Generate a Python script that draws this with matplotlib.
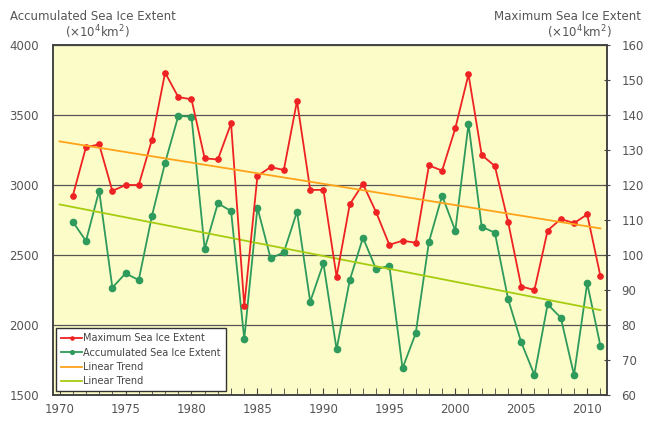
import numpy as np
import matplotlib
matplotlib.use('Agg')
import matplotlib.pyplot as plt

# data
years = list(range(1971, 2012))
max_extent = [116.9, 130.8, 131.6, 118.3, 120.0, 120.0, 132.9, 152.1, 145.1, 144.5,
              127.6, 127.3, 137.6, 85.4, 122.6, 125.1, 124.3, 144.0, 118.6, 118.6,
              93.8, 114.5, 120.3, 112.2, 102.9, 104.1, 103.5, 125.6, 124.1, 136.2,
              151.6, 128.6, 125.4, 109.5, 91.0, 90.0, 107.0, 110.3, 109.1, 111.6,
              94.0]
acc_extent = [2738, 2600, 2959, 2267, 2369, 2321, 2779, 3159, 3493, 3488,
              2543, 2869, 2814, 1900, 2838, 2476, 2519, 2810, 2166, 2441,
              1826, 2321, 2624, 2398, 2424, 1691, 1941, 2593, 2924, 2674,
              3436, 2702, 2659, 2186, 1876, 1643, 2148, 2052, 1643, 2298,
              1852]
trend_years = [1970, 2011]
x_ticks = [1970, 1975, 1980, 1985, 1990, 1995, 2000, 2005, 2010]

plt.rcParams['font.family'] = ['DejaVu Sans']
txt = '#555555'

fig = plt.figure(figsize=(6.51, 4.23), dpi=100)
ax = fig.add_axes([0.0814, 0.0662, 0.8510, 0.8274])
ax2 = ax.twinx()
ax.set_facecolor('#fcfcc8')
ax.set_zorder(0)
ax2.set_zorder(1)

# linear trends
yrs = np.array(years)
tx = np.array(trend_years)
p_max = np.polyfit(yrs, max_extent, 1)
p_acc = np.polyfit(yrs, acc_extent, 1)

l1, = ax2.plot(years, max_extent, color='#ee2222', lw=1.3, marker='o', ms=3.8, label='Maximum Sea Ice Extent')
l2, = ax.plot(years, acc_extent, color='#2e9a5c', lw=1.3, marker='o', ms=4.5, label='Accumulated Sea Ice Extent')
l3, = ax2.plot(tx, np.polyval(p_max, tx), color='#ffa31a', lw=1.3, label='Linear Trend')
l4, = ax.plot(tx, np.polyval(p_acc, tx), color='#a6cc10', lw=1.3, label='Linear Trend')

ax.set_xlim(1969.5, 2011.5)
ax.set_ylim(1500, 4000)
ax2.set_ylim(60, 160)
ax.set_yticks(range(1500, 4001, 500))
ax2.set_yticks(range(60, 161, 10))
ax.set_xticks(x_ticks)
ax.set_xticks(years, minor=True)
ax.grid(axis='y', color='#555555', lw=0.9)

for a in (ax, ax2):
    for s in a.spines.values():
        s.set_color('#444444')
        s.set_linewidth(1.2)
ax.tick_params(axis='x', direction='in', length=5, colors='#444444', labelcolor=txt, labelsize=8.5, pad=6)
ax.tick_params(axis='x', which='minor', direction='in', length=5, colors='#444444')
ax.tick_params(axis='y', length=0, labelcolor=txt, labelsize=8.5, pad=10)
ax2.tick_params(axis='y', direction='inout', length=5, colors='#444444', labelcolor=txt, labelsize=8.5, pad=8)

fig.text(0.015, 0.962, 'Accumulated Sea Ice Extent', fontsize=8.5, color=txt, ha='left', va='center')
fig.text(0.1, 0.925, '(×10$^4$km$^2$)', fontsize=8.5, color=txt, ha='left', va='center')
fig.text(0.985, 0.962, 'Maximum Sea Ice Extent', fontsize=8.5, color=txt, ha='right', va='center')
fig.text(0.94, 0.925, '(×10$^4$km$^2$)', fontsize=8.5, color=txt, ha='right', va='center')

leg = ax2.legend(handles=[l1, l2, l3, l4], loc='lower left', bbox_to_anchor=(-0.003, -0.003),
                 fontsize=7, frameon=True, fancybox=False, handlelength=2.2, handletextpad=0.1,
                 borderpad=0.5, labelspacing=0.45, markerscale=0.6)
leg.get_frame().set_edgecolor('#333333')
leg.get_frame().set_linewidth(1.0)
leg.get_frame().set_facecolor('white')
leg.get_frame().set_alpha(1)
for t in leg.get_texts():
    t.set_color('#444444')

fig.savefig('out.png', dpi=100)
